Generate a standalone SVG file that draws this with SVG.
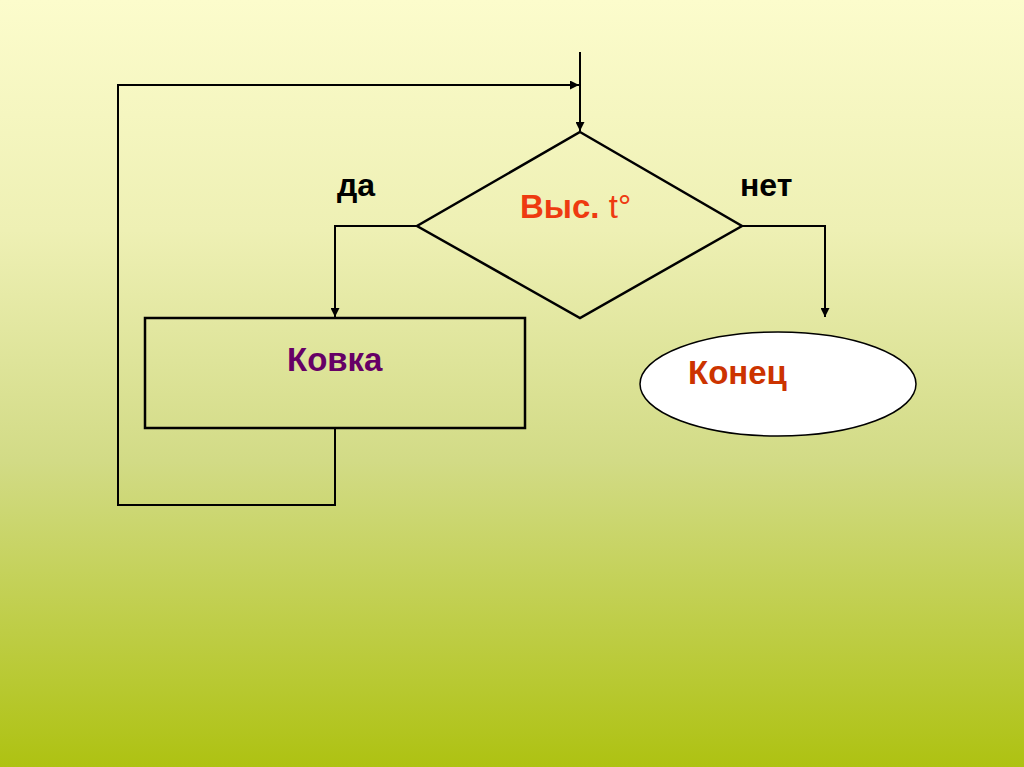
<svg xmlns="http://www.w3.org/2000/svg" width="1024" height="767" viewBox="0 0 1024 767">
<defs>
<linearGradient id="bg" x1="0" y1="0" x2="0" y2="1">
<stop offset="0" stop-color="#FCFCCC"/>
<stop offset="0.3" stop-color="#EEF0B4"/>
<stop offset="0.6" stop-color="#D2DB86"/>
<stop offset="1" stop-color="#AEC212"/>
</linearGradient>
<marker id="arr" viewBox="0 0 10 10" refX="10" refY="5" markerWidth="11" markerHeight="9" markerUnits="userSpaceOnUse" orient="auto">
<path d="M0,0 L10,5 L0,10 Z" fill="#000"/>
</marker>
<style>
.ln{fill:none;stroke:#000;stroke-width:2}
.lbl{font-family:"Liberation Sans",Arial,sans-serif;font-weight:bold;font-size:32px;fill:#000}
.t{font-family:"Liberation Sans",Arial,sans-serif;font-size:33px}
</style>
</defs>
<rect width="1024" height="767" fill="url(#bg)"/>
<g id="connectors">
<path class="ln" d="M580,52 L580,131" marker-end="url(#arr)"/>
<path class="ln" d="M335,428 L335,505 L118,505 L118,85 L579,85" marker-end="url(#arr)"/>
<path class="ln" d="M417,226 L335,226 L335,317" marker-end="url(#arr)"/>
<path class="ln" d="M742,226 L825,226 L825,317" marker-end="url(#arr)"/>
</g>
<g id="decision">
<polygon points="580,132 742,226 580,318 417,226" fill="none" stroke="#000" stroke-width="2.5"/>
<text class="t" x="520" y="218" fill="#EE3A10"><tspan font-weight="bold">Выс.</tspan> t°</text>
</g>
<g id="label-yes"><text class="lbl" x="337" y="196">да</text></g>
<g id="label-no"><text class="lbl" x="740" y="196">нет</text></g>
<g id="process">
<rect x="145" y="318" width="380" height="110" fill="none" stroke="#000" stroke-width="2.5"/>
<text class="t" x="287" y="371" fill="#660066" font-weight="bold">Ковка</text>
</g>
<g id="end">
<ellipse cx="778" cy="384" rx="138" ry="52" fill="#fff" stroke="#000" stroke-width="1.5"/>
<text class="t" x="688" y="384" fill="#CC3300" font-weight="bold">Конец</text>
</g>
</svg>
